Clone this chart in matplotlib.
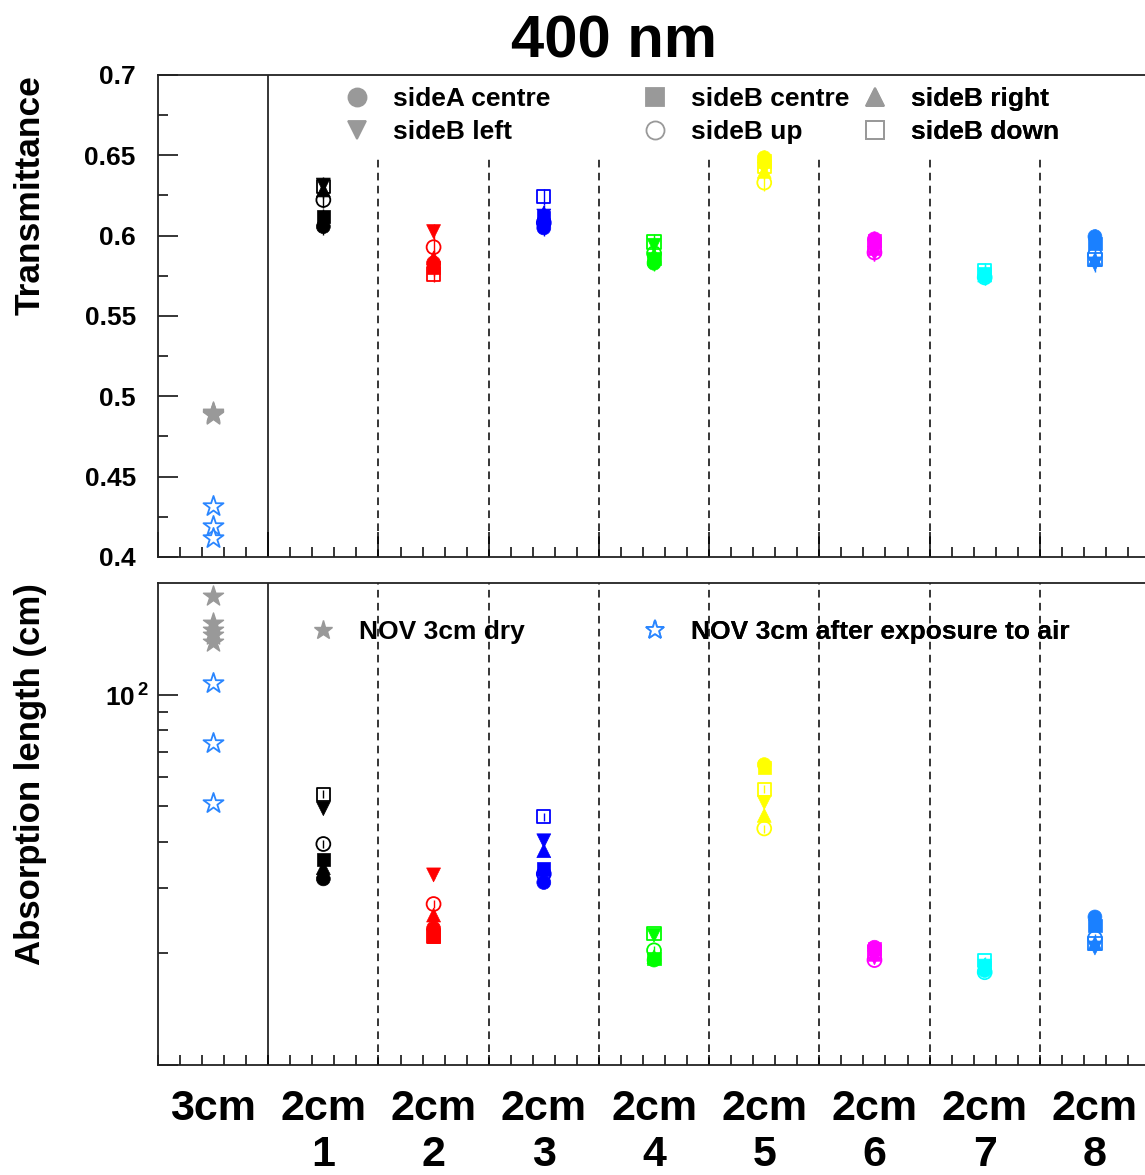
import numpy as np
import matplotlib
matplotlib.use("Agg")
import matplotlib.pyplot as plt
from matplotlib.lines import Line2D
from matplotlib.ticker import NullFormatter

plt.rcParams["font.family"] = ["Liberation Sans", "DejaVu Sans"]
plt.rcParams["font.weight"] = "bold"
plt.rcParams["axes.labelweight"] = "bold"
plt.rcParams["mathtext.fontset"] = "custom"
plt.rcParams["mathtext.bf"] = "Liberation Sans:bold"
plt.rcParams["mathtext.rm"] = "Liberation Sans:bold"

# categories (x axis)
categories = ["3cm", "2cm\n1", "2cm\n2", "2cm\n3", "2cm\n4", "2cm\n5", "2cm\n6", "2cm\n7", "2cm\n8"]
sample_colors = ["black", "red", "blue", "#00ff00", "#ffff00", "#ff00ff", "#00ffff", "#1a80ff"]

# transmittance at 400 nm, 2cm samples 1..8
trans_sideA_centre = [0.6056, 0.583, 0.6048, 0.5828, 0.6485, 0.598, 0.5745, 0.5994]
trans_sideB_left = [0.6315, 0.6025, 0.6122, 0.594, 0.6415, 0.589, 0.575, 0.5824]
trans_sideB_centre = [0.6118, 0.580, 0.611, 0.586, 0.6465, 0.597, 0.5765, 0.5952]
trans_sideB_up = [0.6222, 0.5928, 0.608, 0.589, 0.633, 0.5895, 0.574, 0.588]
trans_sideB_right = [0.6284, 0.586, 0.614, 0.588, 0.640, 0.592, 0.5755, 0.585]
trans_sideB_down = [0.6308, 0.5761, 0.6243, 0.596, 0.643, 0.594, 0.578, 0.5849]

# absorption length (cm)
abs_sideA_centre = [31.8, 23.4, 31.1, 19.2, 64.7, 20.8, 18.0, 25.1]
abs_sideB_left = [49.2, 32.6, 40.3, 22.4, 51.1, 19.5, 18.5, 20.7]
abs_sideB_centre = [35.8, 22.2, 33.8, 19.4, 63.4, 20.6, 18.3, 23.8]
abs_sideB_up = [39.5, 27.2, 32.8, 20.4, 43.5, 19.2, 17.8, 22.0]
abs_sideB_right = [34.1, 25.4, 37.9, 19.6, 47.2, 19.9, 18.6, 21.3]
abs_sideB_down = [53.8, 22.3, 46.8, 22.6, 55.5, 20.3, 19.1, 21.3]

# NOV 3cm reference sample
nov_dry_trans = [0.4905, 0.4895, 0.489, 0.4888, 0.4885]
nov_dry_abs = [184, 155.8, 149.2, 144.7, 138.8]
nov_air_trans = [0.432, 0.419, 0.4115]
nov_air_abs = [107.5, 74.1, 51.1]

trans_err = 0.005
abs_rel_err = 0.025

series = [
    ("sideA centre", trans_sideA_centre, abs_sideA_centre, "o", True),
    ("sideB left", trans_sideB_left, abs_sideB_left, "v", True),
    ("sideB centre", trans_sideB_centre, abs_sideB_centre, "s", True),
    ("sideB up", trans_sideB_up, abs_sideB_up, "o", False),
    ("sideB right", trans_sideB_right, abs_sideB_right, "^", True),
    ("sideB down", trans_sideB_down, abs_sideB_down, "s", False),
]

centers = np.arange(len(categories)) + 0.5
x_samples = centers[1:]
star_blue = "#2a86ff"
grey = "#999999"

fig = plt.figure(figsize=(11.45, 11.75), dpi=100)
ax1 = fig.add_axes([0.138, 0.526, 0.8664, 0.4102])
ax2 = fig.add_axes([0.138, 0.0936, 0.8664, 0.4102])

for ax, idx in ((ax1, 1), (ax2, 2)):
    for name, tv, av, mk, filled in series:
        vals = np.array(tv if idx == 1 else av)
        if idx == 1:
            lo, hi = vals - trans_err, vals + trans_err
        else:
            lo, hi = vals * (1 - abs_rel_err), vals * (1 + abs_rel_err)
        ax.vlines(x_samples, lo, hi, colors=sample_colors, lw=1, zorder=3)
    for name, tv, av, mk, filled in series:
        vals = tv if idx == 1 else av
        size = 90 if mk == "s" else 100
        if filled:
            ax.scatter(x_samples, vals, s=size, marker=mk, c=sample_colors,
                       edgecolors=sample_colors, linewidths=0.5, zorder=4)
        else:
            ax.scatter(x_samples, vals, s=size, marker=mk, facecolors="none",
                       edgecolors=sample_colors, linewidths=1.3, zorder=5)

ax1.scatter(np.full(len(nov_dry_trans), centers[0]), nov_dry_trans, s=230, marker="*",
            color=grey, zorder=4)
ax1.scatter(np.full(len(nov_air_trans), centers[0]), nov_air_trans, s=230, marker="*",
            facecolors="white", edgecolors=star_blue, linewidths=1.3, zorder=4)
ax2.scatter(np.full(len(nov_dry_abs), centers[0]), nov_dry_abs, s=230, marker="*",
            color=grey, zorder=4)
ax2.scatter(np.full(len(nov_air_abs), centers[0]), nov_air_abs, s=230, marker="*",
            facecolors="white", edgecolors=star_blue, linewidths=1.3, zorder=4)

dividers = np.arange(2, len(categories))

# top panel
ax1.set_xlim(0, 9)
ax1.set_ylim(0.4, 0.7)
ax1.axvline(1, color="black", lw=1.1)
ax1.vlines(dividers, 0.4, 0.65, colors="black", linestyles=(0, (5, 3.5)), lw=1.1)
yt = [0.4, 0.45, 0.5, 0.55, 0.6, 0.65, 0.7]
ax1.set_yticks(yt, ["0.4", "0.45", "0.5", "0.55", "0.6", "0.65", "0.7"])
ax1.set_yticks(np.arange(0.425, 0.7, 0.05), minor=True)
ax1.set_xticks(np.arange(0, 10), [""] * 10)
ax1.set_xticks(np.arange(0, 9.01, 0.2), minor=True)
ax1.tick_params(axis="y", which="major", direction="in", length=14.5, width=1.1,
                pad=16, labelsize=19)
ax1.tick_params(axis="y", which="minor", direction="in", length=7.2, width=1.1)
ax1.tick_params(axis="x", which="major", direction="in", length=18, width=1.1)
ax1.tick_params(axis="x", which="minor", direction="in", length=7.2, width=1.1)
ax1.set_ylabel("Transmittance", fontsize=25.5, fontweight="bold", loc="top")
ax1.yaxis.set_label_coords(-0.112, 1.0)

# bottom panel
ax2.set_xlim(0, 9)
ax2.set_yscale("log")
ax2.set_ylim(10, 200)
ax2.axvline(1, color="black", lw=1.1)
for d in dividers:
    ax2.axvline(d, color="black", linestyle=(0, (5, 3.5)), lw=1.1)
ax2.set_yticks([10, 100], ["", "10$^{\\,\\mathbf{2}}$"])
ax2.set_yticks(np.arange(20, 100, 10), minor=True)
ax2.yaxis.set_minor_formatter(NullFormatter())
ax2.set_xticks(centers, categories)
ax2.set_xticks(np.arange(0, 9.01, 0.2), minor=True)
ax2.tick_params(axis="y", which="major", direction="in", length=14.5, width=1.1,
                pad=6, labelsize=19)
ax2.tick_params(axis="y", which="minor", direction="in", length=7.2, width=1.1)
ax2.tick_params(axis="x", which="major", length=0, pad=17, labelsize=31)
ax2.tick_params(axis="x", which="minor", direction="in", length=7.2, width=1.1)
ax2.set_ylabel("Absorption length (cm)", fontsize=25, fontweight="bold", loc="top")
ax2.yaxis.set_label_coords(-0.112, 1.0)

for ax in (ax1, ax2):
    for sp in ax.spines.values():
        sp.set_linewidth(1.3)
        sp.set_color("#222222")

# legends
leg_font = {"weight": "bold", "size": 19}
proxies = [Line2D([], [], linestyle="none", marker=mk, markersize=13,
                  markerfacecolor=grey if filled else "none",
                  markeredgecolor=grey, markeredgewidth=1.3)
           for name, tv, av, mk, filled in series]
names = [s[0] for s in series]
for col, xa in enumerate([0.1873, 0.4877, 0.7095]):
    leg = ax1.legend(proxies[2 * col:2 * col + 2], names[2 * col:2 * col + 2],
                     loc="upper left", bbox_to_anchor=(xa, 0.975), frameon=False,
                     prop=leg_font, handlelength=1.0, handletextpad=0.86,
                     borderpad=0, borderaxespad=0, labelspacing=0.34)
    ax1.add_artist(leg)

star_proxies = [
    Line2D([], [], linestyle="none", marker="*", markersize=14, color=grey),
    Line2D([], [], linestyle="none", marker="*", markersize=14,
           markerfacecolor="white", markeredgecolor=star_blue, markeredgewidth=1.3),
]
star_names = ["NOV 3cm dry", "NOV 3cm after exposure to air"]
for k, xa in enumerate([0.153, 0.4877]):
    leg = ax2.legend([star_proxies[k]], [star_names[k]], loc="upper left",
                     bbox_to_anchor=(xa, 0.923), frameon=False, prop=leg_font,
                     handlelength=1.0, handletextpad=0.86, borderpad=0, borderaxespad=0)
    ax2.add_artist(leg)

fig.text(0.536, 1 - 57 / 1175, "400 nm", ha="center", va="baseline",
         fontsize=43, fontweight="bold")

fig.savefig("out.png", dpi=100)
